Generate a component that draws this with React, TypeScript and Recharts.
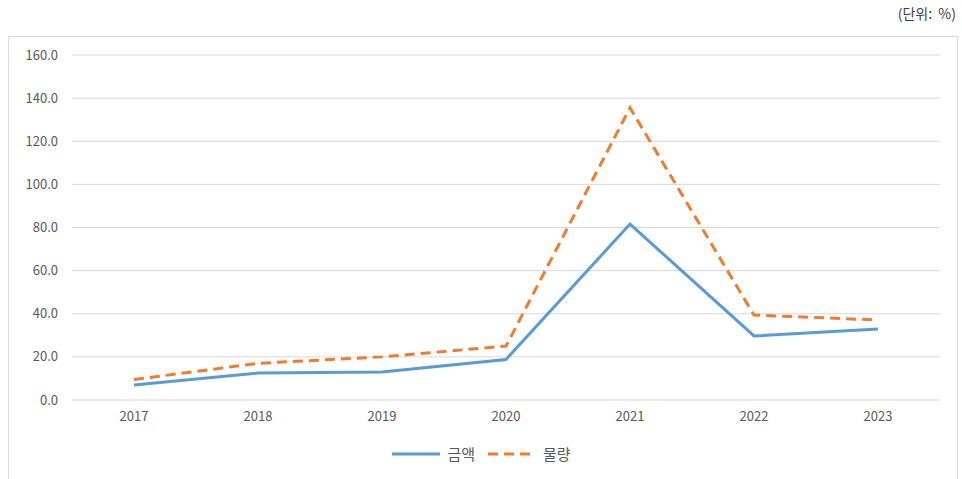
import React from 'react';
import { LineChart, Line, XAxis, YAxis, CartesianGrid, Legend } from 'recharts';

const years = ['2017', '2018', '2019', '2020', '2021', '2022', '2023'];
const amount = [7.0, 12.5, 13.0, 18.8, 81.6, 29.7, 32.9];
const volume = [9.5, 17.0, 20.0, 25.0, 135.5, 39.4, 37.1];
const yTicks = [0, 20, 40, 60, 80, 100, 120, 140, 160];

const BLUE = '#5b9bd5';
const ORANGE = '#ed7d31';
const FONT = '"Noto Sans CJK KR", "Noto Sans", sans-serif';

const data = years.map((year, i) => ({ year, amount: amount[i], volume: volume[i] }));

function LegendContent() {
  const item = (label: string, color: string, dash?: string) => (
    <div style={{ display: 'flex', alignItems: 'center', marginRight: 12 }}>
      <svg width={50} height={10} style={{ marginRight: 6 }}>
        <line x1={1} y1={5} x2={49} y2={5} stroke={color} strokeWidth={3} strokeDasharray={dash} />
      </svg>
      <span style={{ fontSize: 15, color: '#595959' }}>{label}</span>
    </div>
  );
  return (
    <div style={{ display: 'flex', justifyContent: 'center', paddingTop: 9, fontFamily: FONT, paddingLeft: 34 }}>
      {item('금액', BLUE)}
      {item('물량', ORANGE, '10 6')}
    </div>
  );
}

export default function App() {
  return (
    <div style={{ position: 'absolute', left: 0, top: 0, width: 962, height: 479, overflow: 'hidden', background: '#fff', fontFamily: FONT }}>
      <div style={{ position: 'absolute', right: 6, top: 3, fontSize: 14, color: '#404040', whiteSpace: 'pre' }}>(단위:  %)</div>
      <div style={{ position: 'absolute', left: 8, top: 36, width: 950, height: 460, border: '1px solid #d9d9d9', boxSizing: 'border-box' }} />
      <div style={{ position: 'absolute', left: 0, top: 0 }}>
        <LineChart width={962} height={479} data={data} margin={{ top: 55, right: 22, left: 0, bottom: 5 }}>
          <CartesianGrid vertical={false} stroke="#d9d9d9" />
          <XAxis
            dataKey="year"
            axisLine={false}
            tickLine={false}
            tickSize={0}
            tickMargin={12}
            height={34}
            padding={{ left: 62, right: 62 }}
            tick={{ fontSize: 13, fill: '#595959', fontFamily: FONT }}
          />
          <YAxis
            domain={[0, 160]}
            ticks={yTicks}
            interval={0}
            axisLine={false}
            tickLine={false}
            tickSize={0}
            tickMargin={14}
            width={72}
            tickFormatter={(v: number) => v.toFixed(1)}
            tick={{ fontSize: 13, fill: '#595959', fontFamily: FONT }}
          />
          <Legend verticalAlign="bottom" height={40} content={<LegendContent />} />
          <Line type="linear" dataKey="amount" name="금액" stroke={BLUE} strokeWidth={3} dot={false} isAnimationActive={false} />
          <Line type="linear" dataKey="volume" name="물량" stroke={ORANGE} strokeWidth={3} strokeDasharray="10 6" dot={false} isAnimationActive={false} />
        </LineChart>
      </div>
    </div>
  );
}
